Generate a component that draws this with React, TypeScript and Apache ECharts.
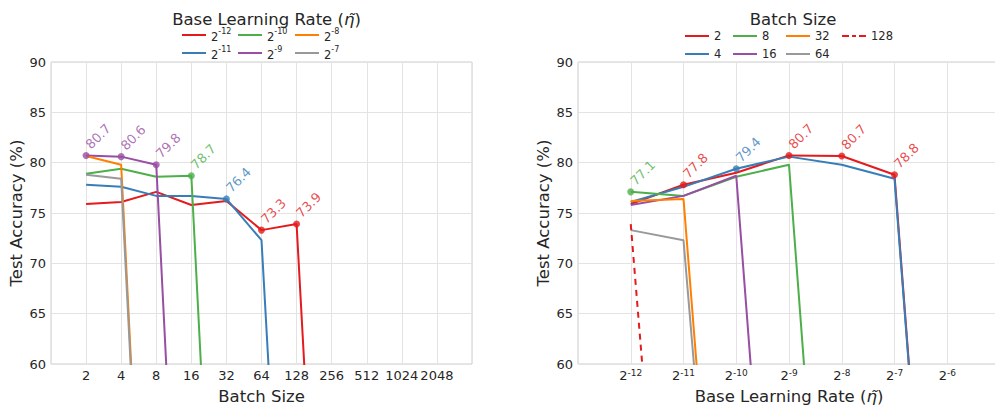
import React, { useEffect, useRef } from "react";
import * as echarts from "echarts";

// ---------- data ----------
// Left panel: x = batch size, one series per base learning rate
const BATCH_SIZES = [2, 4, 8, 16, 32, 64, 128, 256];
const LR_EXPONENTS_LEFT = [-12, -11, -10, -9, -8, -7];
const ACC_LR_M12 = [75.9, 76.1, 77.1, 75.8, 76.2, 73.3, 73.9, 10];
const ACC_LR_M11 = [77.8, 77.6, 76.7, 76.7, 76.4, 72.3, 10];
const ACC_LR_M10 = [78.9, 79.4, 78.6, 78.7, 10];
const ACC_LR_M9 = [80.72, 80.6, 79.8, 10];
const ACC_LR_M8 = [80.66, 79.8, 10];
const ACC_LR_M7 = [78.8, 78.4, 10];

// Right panel: x = base learning rate (2^exp), one series per batch size
const LR_EXPONENTS = [-12, -11, -10, -9, -8, -7, -6];
const BATCH_LABELS = ["2", "4", "8", "16", "32", "64", "128"];
const ACC_BS_2 = [75.9, 77.8, 79.0, 80.72, 80.66, 78.8, 10];
const ACC_BS_4 = [76.1, 77.6, 79.4, 80.6, 79.8, 78.4, 10];
const ACC_BS_8 = [77.1, 76.7, 78.6, 79.8, 10];
const ACC_BS_16 = [75.8, 76.7, 78.7, 10];
const ACC_BS_32 = [76.2, 76.4, 10];
const ACC_BS_64 = [73.3, 72.3, 10];
const ACC_BS_128 = [73.9, 10];

const LEFT_TICK_EXPONENTS = [1, 2, 3, 4, 5, 6, 7, 8, 9, 10, 11];
const RIGHT_TICK_EXPONENTS = [-12, -11, -10, -9, -8, -7, -6];

// ---------- styles ----------
const RED = "#e41a1c";
const BLUE = "#377eb8";
const GREEN = "#4daf4a";
const PURPLE = "#984ea3";
const ORANGE = "#ff7f00";
const GRAY = "#999999";
const FONT = "DejaVu Sans";
const TEXT = "#262626";

const LEFT_COLORS = [RED, BLUE, GREEN, PURPLE, ORANGE, GRAY];
const RIGHT_COLORS = [RED, BLUE, GREEN, PURPLE, ORANGE, GRAY, RED];

const SOLID_ICON = "path://M0,0h24v2h-24z";
const DASH_ICON = "path://M0,0h7v2h-7z M10,0h4v2h-4z M17,0h7v2h-7z";

function bestMarkers(xs: number[], seriesVals: number[][], colors: string[]) {
  const out: any[] = [];
  xs.forEach((x, i) => {
    let best = -1;
    let bestV = -Infinity;
    seriesVals.forEach((vals, s) => {
      const v = vals[i];
      if (v !== undefined && v >= 60 && v > bestV) {
        bestV = v;
        best = s;
      }
    });
    if (best >= 0) {
      out.push({
        value: [x, bestV],
        itemStyle: { color: colors[best] },
        label: { color: colors[best] },
      });
    }
  });
  return out;
}

export default function App() {
  const ref = useRef<HTMLDivElement>(null);

  useEffect(() => {
    if (!ref.current) return;
    const chart = echarts.init(ref.current, undefined, { renderer: "svg" });

    const leftVals = [ACC_LR_M12, ACC_LR_M11, ACC_LR_M10, ACC_LR_M9, ACC_LR_M8, ACC_LR_M7];
    const leftNames = LR_EXPONENTS_LEFT.map((e) => "lr" + e);
    const rightVals = [ACC_BS_2, ACC_BS_4, ACC_BS_8, ACC_BS_16, ACC_BS_32, ACC_BS_64, ACC_BS_128];
    const lrs = LR_EXPONENTS.map((e) => Math.pow(2, e));

    const supRich = {
      b: { fontSize: 11.5, fontFamily: FONT, color: TEXT, lineHeight: 16, verticalAlign: "bottom" },
      s: { fontSize: 8, fontFamily: FONT, color: TEXT, verticalAlign: "top", lineHeight: 16 },
    };

    const lineSeries: any[] = [];
    leftVals.forEach((vals, s) => {
      lineSeries.push({
        type: "line",
        name: leftNames[s],
        xAxisIndex: 0,
        yAxisIndex: 0,
        data: vals.map((v, i) => [BATCH_SIZES[i], v]),
        symbol: "none",
        showSymbol: false,
        lineStyle: { color: LEFT_COLORS[s], width: 2 },
        itemStyle: { color: LEFT_COLORS[s] },
        clip: true,
        z: 2,
      });
    });
    rightVals.forEach((vals, s) => {
      const dashed = BATCH_LABELS[s] === "128";
      lineSeries.push({
        type: "line",
        name: "bs" + BATCH_LABELS[s],
        xAxisIndex: 1,
        yAxisIndex: 1,
        data: vals.map((v, i) => [lrs[i], v]),
        symbol: "none",
        showSymbol: false,
        lineStyle: { color: RIGHT_COLORS[s], width: 2, type: dashed ? [6, 5] : "solid" },
        itemStyle: { color: RIGHT_COLORS[s] },
        clip: true,
        z: 2,
      });
    });

    const markerLabel = {
      show: true,
      position: "top",
      distance: 0,
      offset: [5, 4],
      rotate: 45,
      align: "left",
      verticalAlign: "bottom",
      fontSize: 13,
      fontFamily: FONT,
      formatter: (p: any) => Number(p.value[1]).toFixed(1),
    };

    lineSeries.push({
      type: "scatter",
      name: "_bestLeft",
      xAxisIndex: 0,
      yAxisIndex: 0,
      symbol: "circle",
      symbolSize: 7,
      data: bestMarkers(BATCH_SIZES, leftVals, LEFT_COLORS),
      label: markerLabel,
      z: 5,
    });
    lineSeries.push({
      type: "scatter",
      name: "_bestRight",
      xAxisIndex: 1,
      yAxisIndex: 1,
      symbol: "circle",
      symbolSize: 7,
      data: bestMarkers(lrs, rightVals, RIGHT_COLORS),
      label: markerLabel,
      z: 5,
    });

    const legendBase = {
      orient: "vertical",
      top: 27,
      itemWidth: 24,
      itemHeight: 2,
      itemGap: 2,
      padding: 0,
      selectedMode: false,
      textStyle: { fontSize: 11.5, fontFamily: FONT, color: TEXT, lineHeight: 16 },
    };
    const leftLegendFormatter = (name: string) => `{b|2}{s|${name.replace("lr", "")}}`;
    const leftCols = [182, 238, 295];
    const rightCols = [685, 733, 786, 842];
    const legends: any[] = [];
    leftCols.forEach((x, c) => {
      legends.push({
        ...legendBase,
        left: x,
        data: [leftNames[c * 2], leftNames[c * 2 + 1]].map((n) => ({ name: n, icon: SOLID_ICON })),
        formatter: leftLegendFormatter,
        textStyle: { ...legendBase.textStyle, rich: supRich },
      });
    });
    rightCols.forEach((x, c) => {
      const names = BATCH_LABELS.filter((_, i) => Math.floor(i / 2) === c);
      legends.push({
        ...legendBase,
        top: 28,
        left: x,
        data: names.map((b) => ({ name: "bs" + b, icon: b === "128" ? DASH_ICON : SOLID_ICON })),
        formatter: (name: string) => name.replace("bs", ""),
      });
    });

    const yAxisBase = {
      type: "value",
      min: 60,
      max: 90,
      interval: 5,
      name: "Test Accuracy (%)",
      nameLocation: "middle",
      nameGap: 26,
      nameTextStyle: { fontSize: 16.5, fontFamily: FONT, color: TEXT },
      axisLine: { show: false },
      axisTick: { show: false },
      axisLabel: { fontSize: 13, fontFamily: FONT, color: TEXT, margin: 5 },
      splitLine: { lineStyle: { color: "#e3e3e3", width: 1 } },
    };

    const tickRich = {
      b: { fontSize: 13, fontFamily: FONT, color: TEXT, lineHeight: 14, verticalAlign: "bottom" },
      s: { fontSize: 9, fontFamily: FONT, color: TEXT, lineHeight: 14, verticalAlign: "top" },
    };

    const gridBase = {
      top: 62,
      bottom: 41,
      show: true,
      borderColor: "#cccccc",
      borderWidth: 1,
      backgroundColor: "transparent",
      containLabel: false,
      outerBoundsMode: "none",
    };

    const nameStyle = { fontSize: 16.5, fontFamily: FONT, color: TEXT, lineHeight: 19 };

    chart.setOption({
      animation: false,
      backgroundColor: "#ffffff",
      textStyle: { fontFamily: FONT },
      title: [
        {
          text: "Base Learning Rate ({i|η̃})",
          left: 261.5,
          top: 6,
          textAlign: "center",
          textStyle: {
            fontSize: 16.5,
            fontWeight: "normal",
            fontFamily: FONT,
            color: TEXT,
            rich: { i: { fontSize: 16.5, fontStyle: "italic", fontFamily: FONT, color: TEXT } },
          },
        },
        {
          text: "Batch Size",
          left: 788,
          top: 6,
          textAlign: "center",
          textStyle: { fontSize: 16.5, fontWeight: "normal", fontFamily: FONT, color: TEXT },
        },
      ],
      legend: legends,
      grid: [
        { ...gridBase, left: 51, right: 523 },
        { ...gridBase, left: 578, right: -5 },
      ],
      xAxis: [
        {
          type: "log",
          logBase: 2,
          gridIndex: 0,
          min: 1,
          max: 4096,
          splitNumber: 12,
          interval: 1,
          name: "Batch Size",
          nameLocation: "middle",
          nameGap: 15,
          nameTextStyle: nameStyle,
          axisLine: { show: false },
          axisTick: { show: false },
          axisLabel: {
            fontSize: 13,
            fontFamily: FONT,
            color: TEXT,
            margin: 5,
            hideOverlap: false,
            showMinLabel: true,
            showMaxLabel: true,
            formatter: (v: number) => {
              const e = Math.round(Math.log2(v));
              return LEFT_TICK_EXPONENTS.includes(e) ? String(Math.pow(2, e)) : "";
            },
          },
          splitLine: { lineStyle: { color: "#e3e3e3", width: 1 } },
        },
        {
          type: "log",
          logBase: 2,
          gridIndex: 1,
          min: Math.pow(2, -13),
          max: Math.pow(2, -5),
          splitNumber: 8,
          interval: 1,
          name: "Base Learning Rate ({i|η̃})",
          nameLocation: "middle",
          nameGap: 15,
          nameTextStyle: {
            ...nameStyle,
            rich: { i: { fontSize: 16.5, fontStyle: "italic", fontFamily: FONT, color: TEXT, lineHeight: 19 } },
          },
          axisLine: { show: false },
          axisTick: { show: false },
          axisLabel: {
            fontSize: 13,
            fontFamily: FONT,
            color: TEXT,
            margin: 4,
            hideOverlap: false,
            rich: tickRich,
            formatter: (v: number) => {
              const e = Math.round(Math.log2(v));
              return RIGHT_TICK_EXPONENTS.includes(e) ? `{b|2}{s|-${Math.abs(e)}}` : "";
            },
          },
          splitLine: { lineStyle: { color: "#e3e3e3", width: 1 } },
        },
      ],
      yAxis: [
        { ...yAxisBase, gridIndex: 0 },
        { ...yAxisBase, gridIndex: 1 },
      ],
      series: lineSeries,
    });

    return () => chart.dispose();
  }, []);

  return (
    <div
      ref={ref}
      style={{ position: "fixed", left: 0, top: 0, width: 995, height: 405, background: "#fff" }}
    />
  );
}
